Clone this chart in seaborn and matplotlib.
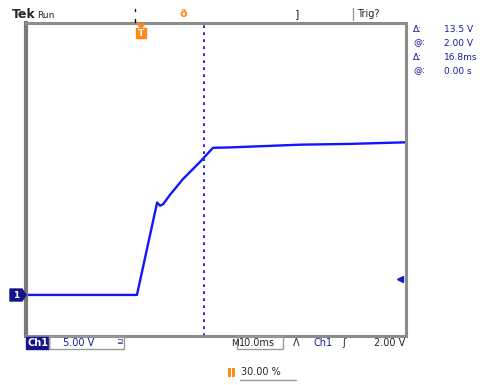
import matplotlib
matplotlib.use("Agg")
import matplotlib.pyplot as plt
import matplotlib.transforms as mtransforms
from matplotlib.patches import Polygon, Rectangle
from matplotlib.lines import Line2D
import pandas as pd
import seaborn as sns

# Channel 1 trace: time relative to trigger (ms) and voltage (V)
time_ms = [-30.0, -0.8, 4.5, 5.3, 6.1, 7.9, 11.3, 15.8, 19.2, 23.7, 31.6, 42.1, 55.3, 69.7, 70.0]
volts = [0.0, 0.0, 11.8, 11.4, 11.6, 12.8, 14.8, 17.0, 18.8, 18.85, 19.0, 19.2, 19.3, 19.5, 19.5]

# Acquisition settings
volts_per_div = 5.0
ms_per_div = 10.0
trigger_pct = 30.0
trigger_level = 2.0
cursor_time = 16.8
h_divs, v_divs = 10, 8
ground_div = 1.05

# Readout strings
cursor_labels = ["Δ:", "@:", "Δ:", "@:"]
cursor_values = ["13.5 V", "2.00 V", "16.8ms", "0.00 s"]

W, H = 485, 385
sns.set_style("white")
plt.rcParams["font.family"] = ["DejaVu Sans"]

fig = plt.figure(figsize=(W / 100, H / 100), dpi=100)
fig.patch.set_facecolor("white")


def fp(x, y):
    return x / W, 1 - y / H


left, top, right, bottom = 26, 23, 406, 336
ax = fig.add_axes([left / W, 1 - bottom / H, (right - left) / W, (bottom - top) / H])

t0 = -trigger_pct / 100 * h_divs * ms_per_div
ax.set_xlim(t0, t0 + h_divs * ms_per_div)
ax.set_ylim(-ground_div * volts_per_div, (v_divs - ground_div) * volts_per_div)
ax.set_xticks([])
ax.set_yticks([])
for s in ax.spines.values():
    s.set_color("#8c8c8c")
    s.set_linewidth(2.2)
ax.spines["left"].set_linewidth(3)
ax.spines["left"].set_color("#7a7a7a")

df = pd.DataFrame({"t": time_ms, "v": volts})
sns.lineplot(data=df, x="t", y="v", ax=ax, color="#1414ff", lw=1.7,
             sort=False, estimator=None)
ax.set_xlabel("")
ax.set_ylabel("")

# Time cursor
ax.axvline(cursor_time, color="#2a2ad0", ls=(0, (1.4, 2.2)), lw=1.4)

# Trigger level marker on the right edge
trans = mtransforms.blended_transform_factory(ax.transAxes, ax.transData)
ax.plot([0.985], [trigger_level], marker="<", ms=4, color="#1a1acc",
        transform=trans, clip_on=False)

blue = "#1a1aa0"
navy = "#14148c"
orange = "#ff8a1a"
fs = 7

# Ground reference marker
gx = [10, 22, 26, 22, 10]
gy = [289, 289, 295, 301, 301]
fig.patches.append(Polygon([fp(x, y) for x, y in zip(gx, gy)], closed=True,
                           transform=fig.transFigure, fc=navy, ec=navy))
fig.text(*fp(16, 295), "1", color="white", fontsize=6.5, fontweight="bold",
         ha="center", va="center")

# Trigger position marker below top edge
fig.patches.append(Polygon([fp(137, 24), fp(145, 24), fp(141, 28)], closed=True,
                           transform=fig.transFigure, fc=orange, ec=orange))
fig.patches.append(Rectangle(fp(136, 38), 10 / W, 10 / H, transform=fig.transFigure,
                             fc=orange, ec=orange))
fig.text(*fp(141, 33), "T", color="white", fontsize=6.5, fontweight="bold",
         ha="center", va="center")

# Header line
fig.text(*fp(12, 15), "Tek", fontsize=9, fontweight="bold", va="center", ha="left")
fig.text(*fp(37, 15), "Run", fontsize=6.5, va="center", ha="left")
fig.lines.append(Line2D([135 / W, 135 / W], [1 - 9 / H, 1 - 11 / H],
                        transform=fig.transFigure, color="black", lw=1))
fig.lines.append(Line2D([135 / W, 135 / W], [1 - 19 / H, 1 - 22 / H],
                        transform=fig.transFigure, color="black", lw=1))
fig.text(*fp(183, 14), "ð", fontsize=8, fontweight="bold", color=orange,
         va="center", ha="center")
fig.text(*fp(297, 14), "]", fontsize=8, va="center", ha="center")
fig.lines.append(Line2D([353 / W, 353 / W], [1 - 8 / H, 1 - 20 / H],
                        transform=fig.transFigure, color="#999999", lw=1))
fig.text(*fp(357, 14), "Trig?", fontsize=fs, va="center", ha="left")

# Cursor readouts
for i, (lab, val) in enumerate(zip(cursor_labels, cursor_values)):
    y = [30, 43, 58, 71][i]
    fig.text(*fp(413, y), lab, fontsize=6.5, color=blue, va="center", ha="left")
    fig.text(*fp(444, y), val, fontsize=6.5, color=blue, va="center", ha="left")

# Bottom status line
fig.patches.append(Rectangle(fp(26, 349), 23 / W, 12 / H, transform=fig.transFigure,
                             fc=navy, ec=navy))
fig.text(*fp(37.5, 343), "Ch1", fontsize=fs, color="white", fontweight="bold",
         va="center", ha="center")
fig.patches.append(Rectangle(fp(49, 349), 75 / W, 13 / H, transform=fig.transFigure,
                             fc="none", ec="#9a9a9a", lw=1))
fig.text(*fp(63, 343), f"{volts_per_div:.2f} V", fontsize=fs, color=blue,
         va="center", ha="left")
fig.text(*fp(116, 342), "⊇", fontsize=6, color=blue, va="center", ha="left")

fig.text(*fp(231, 343), "M", fontsize=6.5, va="center", ha="left")
fig.patches.append(Rectangle(fp(237, 349), 46 / W, 13 / H, transform=fig.transFigure,
                             fc="none", ec="#9a9a9a", lw=1))
fig.text(*fp(239, 343), f"{ms_per_div:.1f}ms", fontsize=fs, va="center", ha="left")
fig.text(*fp(293, 343), "Λ", fontsize=fs, va="center", ha="left")
fig.text(*fp(313, 343), "Ch1", fontsize=fs, color=blue, va="center", ha="left")
fig.text(*fp(342, 343), "ʃ", fontsize=fs, va="center", ha="left")
fig.text(*fp(405, 343), f"{trigger_level:.2f} V", fontsize=fs, va="center", ha="right")

# Trigger position readout
fig.patches.append(Rectangle(fp(228, 377), 3 / W, 9 / H, transform=fig.transFigure,
                             fc=orange, ec="none"))
fig.patches.append(Rectangle(fp(232, 377), 3 / W, 9 / H, transform=fig.transFigure,
                             fc=orange, ec="none"))
fig.text(*fp(241, 372), f"{trigger_pct:.2f} %", fontsize=fs, va="center", ha="left")
fig.lines.append(Line2D([240 / W, 296 / W], [1 - 379.5 / H, 1 - 379.5 / H],
                        transform=fig.transFigure, color="#9a9a9a", lw=1))

fig.savefig("out.png", dpi=100, facecolor="white")
